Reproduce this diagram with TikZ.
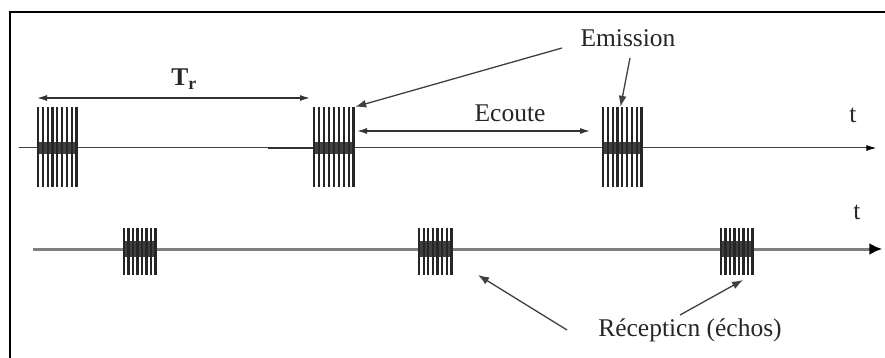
\documentclass[tikz,border=0pt]{standalone}
\usepackage{fontspec}
\setmainfont{Liberation Serif}
\usetikzlibrary{arrows.meta}
\newcommand\mkburst[8]{% name, cx, cy, w, h, nlines-1, axis y, band half height
  \node[inner sep=0pt, minimum width=#4pt, minimum height=#5pt] (#1) at (#2,#3) {};
  \fill[black!75] (#2-#4/2,#7-#8) rectangle (#2+#4/2,#7+#8);
  \pgfmathsetmacro\bstep{(#4-2.4)/#6}
  \foreach \k in {0,...,#6} {
    \pgfmathsetmacro\bx{1.2+\k*\bstep}
    \draw[burstline] ([xshift=\bx pt]#1.north west) -- ([xshift=\bx pt]#1.south west);
  }
}
\begin{document}
\begin{tikzpicture}[x=1pt,y=-1pt,
  lbl/.style={font=\fontsize{25.5}{28}\selectfont, text=black!85, inner sep=0pt},
  burstline/.style={line width=2.3pt, draw=black!85},
  pt/.style={-{Latex[length=11pt,width=8pt]}, line width=1.3pt, draw=black!75},
  dpt/.style={{Latex[length=10pt,width=6pt]}-{Latex[length=10pt,width=6pt]}, line width=1.3pt, draw=black!80}]
\useasboundingbox (0,0) rectangle (885,358);
\fill[white] (0,0) rectangle (885,358);
% frame
\draw[line width=2.5pt, black] (10,358) -- (10,12);
\draw[line width=1.6pt, black] (9,12) -- (885,12);
% axes
\node[inner sep=0pt] (ax1s) at (18,148) {};
\node[inner sep=0pt] (ax1e) at (877,148) {};
\draw[line width=1pt, black!75, -{Latex[length=10pt,width=6pt,color=black]}] (ax1s) -- (ax1e);
\draw[line width=1.8pt, black!80] (268,148) -- (313,148);
\node[inner sep=0pt] (ax2s) at (32,249) {};
\node[inner sep=0pt] (ax2e) at (883,249) {};
\draw[line width=3pt, black!50, -{Latex[length=13pt,width=12pt,color=black]}] (ax2s) -- (ax2e);
% bursts
\mkburst{b1}{57.5}{147}{41}{80}{8}{148}{6}
\mkburst{b2}{334}{147}{42}{80}{8}{148}{6}
\mkburst{b3}{622.5}{147}{41}{80}{8}{148}{6}
\mkburst{b4}{140}{251.5}{34}{47}{7}{249}{8}
\mkburst{b5}{435.5}{251.5}{35}{47}{7}{249}{8}
\mkburst{b6}{737}{251.5}{34}{47}{7}{249}{8}
% labels
\node[lbl] (t1) at (853,115) {t};
\node[lbl] (t2) at (857,212) {t};
\node[lbl, font=\fontsize{25.5}{28}\selectfont\bfseries] (tr) at (184,79) {T\textsubscript{r}};
\node[lbl] (em) at (628,38) {Emission};
\node[lbl] (ec) at (510,113) {Ecoute};
\node[lbl] (rec) at (690,330) {Récepticn (échos)};
% arrows
\coordinate (trL) at (37,98);
\coordinate (trR) at (310,98);
\draw[dpt] (trL) -- (trR);
\coordinate (ecL) at (357,131);
\coordinate (ecR) at (590,131);
\draw[dpt] (ecL) -- (ecR);
\coordinate (em1) at (562,48);
\coordinate (em2) at (630,58);
\draw[pt] (em1) -- (b2.north east);
\draw[pt] (em2) -- ([xshift=-2pt]b3.north);
\coordinate (rc1) at (567,330);
\coordinate (rc2) at (680,315);
\coordinate (rcA) at (478,275);
\coordinate (rcB) at (743,280);
\draw[pt] (rc1) -- (rcA);
\draw[pt] (rc2) -- (rcB);
\end{tikzpicture}
\end{document}
